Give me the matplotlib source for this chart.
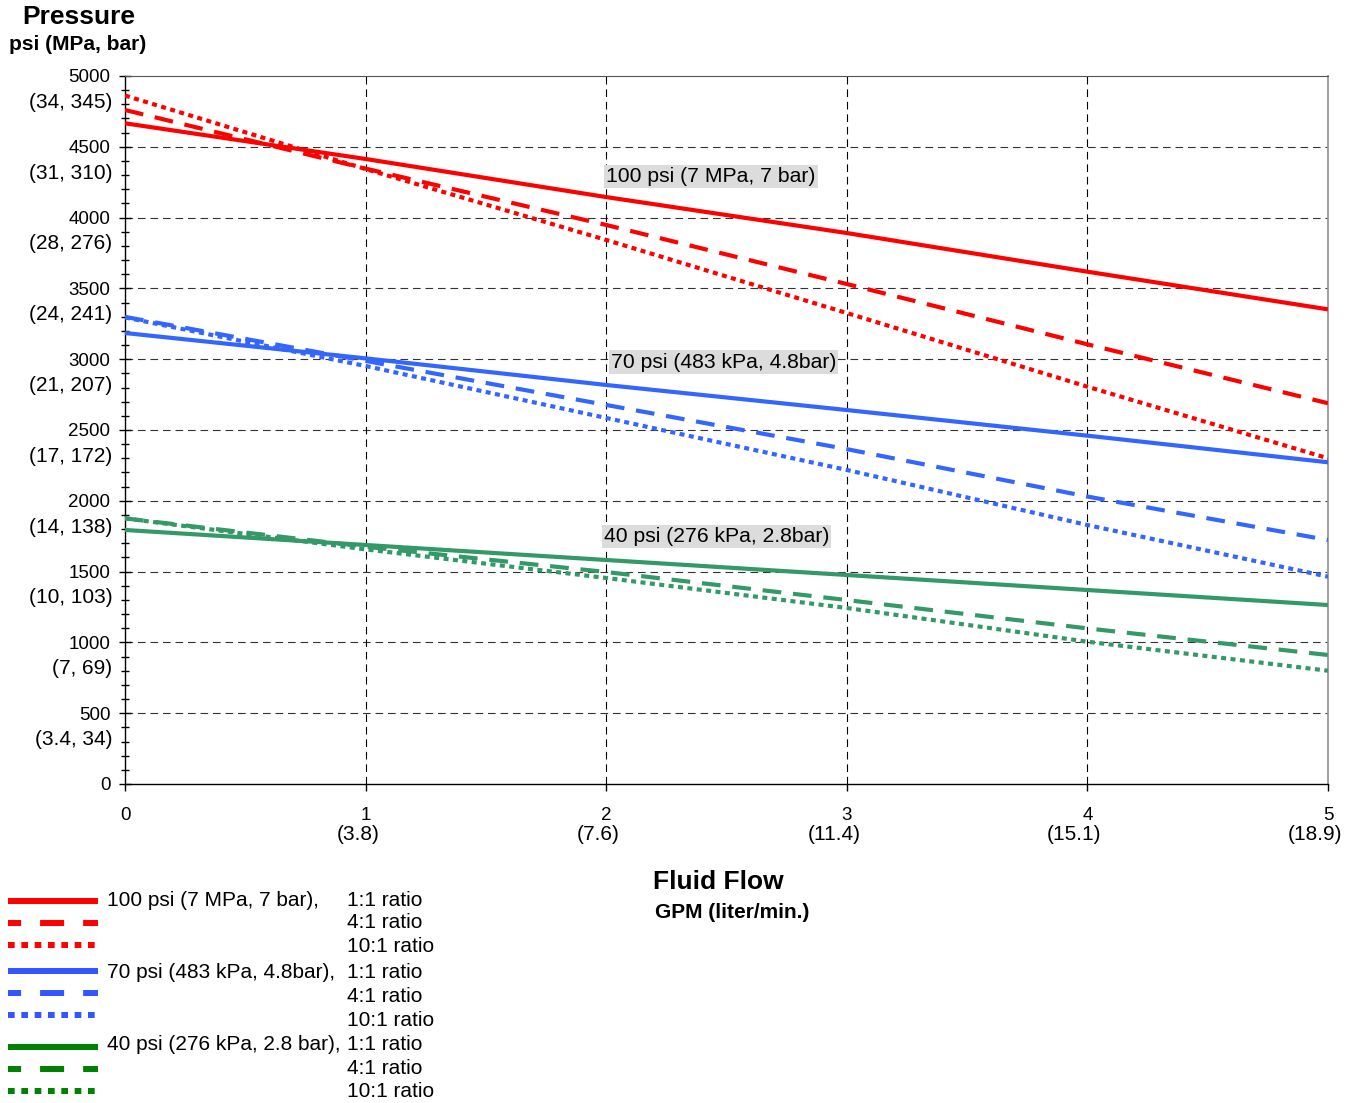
import matplotlib
matplotlib.use("Agg")
import matplotlib.pyplot as plt
from matplotlib.lines import Line2D

plt.rcParams['font.family'] = ['Liberation Sans', 'DejaVu Sans']
plt.rcParams['lines.scale_dashes'] = False

# flow in GPM
flow = [0, 1, 2, 3, 4, 5]
# pressure in psi
red_1 = [4666, 4414, 4145, 3891, 3618, 3352]
red_4 = [4760, 4346, 3948, 3531, 3105, 2689]
red_10 = [4862, 4343, 3842, 3326, 2806, 2300]
blue_1 = [3185, 3006, 2818, 2641, 2460, 2272]
blue_4 = [3299, 2988, 2677, 2365, 2030, 1723]
blue_10 = [3295, 2952, 2585, 2218, 1829, 1464]
green_1 = [1794, 1688, 1582, 1476, 1370, 1264]
green_4 = [1876, 1676, 1497, 1299, 1099, 911]
green_10 = [1876, 1657, 1455, 1243, 1005, 800]

y_ticks = [0, 500, 1000, 1500, 2000, 2500, 3000, 3500, 4000, 4500, 5000]
y_sub = ['', '(3.4, 34)', '(7, 69)', '(10, 103)', '(14, 138)', '(17, 172)',
         '(21, 207)', '(24, 241)', '(28, 276)', '(31, 310)', '(34, 345)']
x_ticks = [0, 1, 2, 3, 4, 5]
x_sub = ['', '(3.8)', '(7.6)', '(11.4)', '(15.1)', '(18.9)']

air_labels = ['100 psi (7 MPa, 7 bar)', '70 psi (483 kPa, 4.8bar)', '40 psi (276 kPa, 2.8bar)']
legend_air = ['100 psi (7 MPa, 7 bar),', '70 psi (483 kPa, 4.8bar),', '40 psi (276 kPa, 2.8 bar),']
ratios = ['1:1 ratio', '4:1 ratio', '10:1 ratio']

W, H = 1362, 1103
fig = plt.figure(figsize=(W / 100, H / 100), dpi=100)
ax = fig.add_axes([125 / W, 1 - 784 / H, (1328 - 125) / W, (784 - 76) / H])

chart_cols = ['#ff0000', '#3366ff', '#339966']
leg_cols = ['#ff0000', '#3355ff', '#008000']
styles = ['-', (0, (13.5, 8.5)), (0, (3.6, 3.2))]
series = [[red_1, red_4, red_10], [blue_1, blue_4, blue_10], [green_1, green_4, green_10]]

for col, group in zip(chart_cols, series):
    for ls, vals in zip(styles, group):
        ax.plot(flow, vals, color=col, lw=3.0, ls=ls, solid_capstyle='butt', zorder=3)

ax.set_xlim(0, 5)
ax.set_ylim(0, 5000)
ax.set_xticks(x_ticks)
ax.set_xticklabels([str(t) for t in x_ticks], fontsize=13.5)
ax.set_yticks(y_ticks)
ax.set_yticklabels([str(t) for t in y_ticks], fontsize=13.5)
ax.set_yticks(range(0, 5001, 100), minor=True)
ax.tick_params(axis='y', which='major', direction='inout', length=8, width=1, pad=6.5)
ax.tick_params(axis='y', which='minor', direction='inout', length=6, width=1)
ax.tick_params(axis='x', which='major', direction='out', length=5, width=1, pad=11.5)

for sp in ['left', 'bottom']:
    ax.spines[sp].set_color('black')
    ax.spines[sp].set_linewidth(1.0)
ax.spines['top'].set_color('#555555')
ax.spines['right'].set_color('#999999')
ax.spines['right'].set_linewidth(1.3)

for v in y_ticks[1:-1]:
    ax.axhline(v, color='#333333', lw=0.8, ls=(0, (5.5, 3.5)), zorder=1)
for v in x_ticks[1:-1]:
    ax.axvline(v, color='black', lw=0.8, ls=(0, (5.5, 3.5)), zorder=1)

# second line of tick labels
for v, s in zip(y_ticks, y_sub):
    if s:
        ax.annotate(s, xy=(0, v), xycoords=ax.get_yaxis_transform(),
                    xytext=(-9, -19), textcoords='offset points',
                    ha='right', va='center', fontsize=15)
for v, s in zip(x_ticks, x_sub):
    if s:
        ax.annotate(s, xy=(v, 0), xycoords=ax.get_xaxis_transform(),
                    xytext=(10, -36.5), textcoords='offset points',
                    ha='right', va='center', fontsize=15)

# air pressure labels on chart
for (x, y), s in zip([(2.0, 4290), (2.02, 2980), (1.99, 1748)], air_labels):
    ax.text(x, y, s, ha='left', va='center', fontsize=15.2, zorder=4,
            bbox=dict(boxstyle='square,pad=0.1', fc='#dcdcdc', ec='none'))

def fx(px):
    return px / W

def fy(py):
    return 1 - py / H

fig.text(fx(22), fy(17), 'Pressure', fontsize=19, fontweight='bold', va='center', ha='left')
fig.text(fx(9), fy(44), 'psi (MPa, bar)', fontsize=15, fontweight='bold', va='center', ha='left')
fig.text(fx(653), fy(882), 'Fluid Flow', fontsize=19, fontweight='bold', va='center', ha='left')
fig.text(fx(655), fy(912), 'GPM (liter/min.)', fontsize=15, fontweight='bold', va='center', ha='left')

# legend, drawn by hand
line_y = [900.7, 922.7, 944.7, 971, 992.7, 1014.7, 1046.7, 1068.7, 1090.7]
text_y = [900, 923, 947, 972.7, 996, 1020, 1044, 1068, 1091.7]
leg_styles = ['-', (7.9, (17.3, 13.7)), (0, (4.8, 4.8))]
k = 0
for gi, col in enumerate(leg_cols):
    for ri in range(3):
        fig.add_artist(Line2D([fx(8), fx(98)], [fy(line_y[k]), fy(line_y[k])],
                              transform=fig.transFigure, color=col, lw=4.3,
                              ls=leg_styles[ri], solid_capstyle='butt'))
        if ri == 0:
            fig.text(fx(107), fy(text_y[k]), legend_air[gi], fontsize=15, va='center', ha='left')
        fig.text(fx(347), fy(text_y[k]), ratios[ri], fontsize=15, va='center', ha='left')
        k += 1

fig.savefig('out.png', dpi=100)
